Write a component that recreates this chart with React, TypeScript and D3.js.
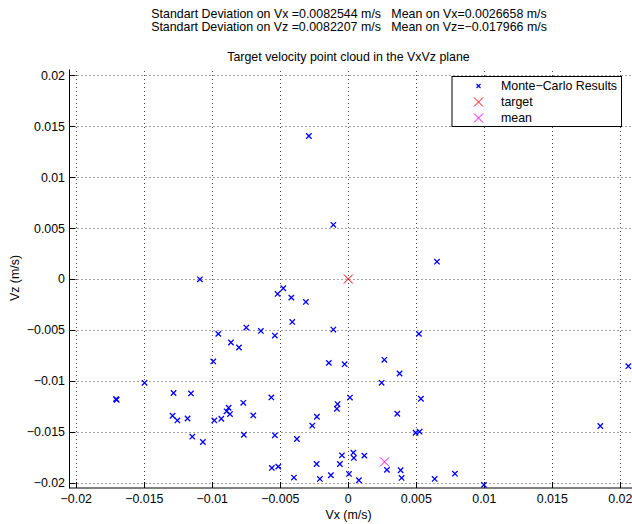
import React from "react";
import * as d3 from "d3";

const W = 632;
const H = 524;

const vx: number[] = [
  -0.0029, -0.0011, 0.00652, -0.01091, -0.00478, -0.0052, -0.00419, -0.00312, -0.00412, -0.0011,
  -0.0075, -0.00643, -0.0054, -0.00956, -0.00863, -0.00804, -0.00993, -0.00143, -0.00027, -0.01498,
  -0.01708, -0.01703, -0.01285, -0.01157, -0.00566, 0.00012, -0.00772, -0.00079, -0.00084, -0.0088,
  -0.00895, -0.0087, -0.01292, -0.01257, -0.01182, -0.00699, -0.00231, -0.00985, -0.00934, -0.00265,
  -0.01147, -0.01069, -0.00768, -0.0054, -0.00378, -0.00047, -0.00233, -0.00062, -0.00562, -0.00515,
  -0.004, -0.00209, -0.00128, 0.00005, 0.00519, 0.00265, 0.00377, 0.00245, 0.02059, 0.00534,
  0.0036, 0.00495, 0.00524, 0.01853, 0.00037, 0.00041, 0.00118, 0.00078, 0.00284, 0.00385,
  0.00392, 0.00635, 0.00784, 0.00997,
];
const vz: number[] = [
  0.01405, 0.00532, 0.0017, -0.00003, -0.00091, -0.00147, -0.00183, -0.00225, -0.00422, -0.00497,
  -0.00477, -0.0051, -0.00556, -0.00539, -0.00624, -0.00673, -0.0081, -0.00824, -0.00837, -0.0102,
  -0.0118, -0.01186, -0.0112, -0.01124, -0.01163, -0.01165, -0.01216, -0.01229, -0.01275, -0.01265,
  -0.013, -0.01327, -0.01343, -0.01389, -0.0137, -0.0134, -0.01353, -0.01389, -0.01373, -0.01441,
  -0.01549, -0.01601, -0.0153, -0.01536, -0.01572, -0.01732, -0.01817, -0.01817, -0.01856, -0.01843,
  -0.01951, -0.01964, -0.01928, -0.01915, -0.00539, -0.00794, -0.00928, -0.0102, -0.00856, -0.01176,
  -0.01324, -0.0151, -0.015, -0.01444, -0.01706, -0.01758, -0.01735, -0.01977, -0.01875, -0.01879,
  -0.01954, -0.01964, -0.01912, -0.02022,
];

const target: [number, number] = [0, 0];
const meanPt: [number, number] = [0.0026658, -0.017966];

const xTicks: number[] = [-0.02, -0.015, -0.01, -0.005, 0, 0.005, 0.01, 0.015, 0.02];
const yTicks: number[] = [-0.02, -0.015, -0.01, -0.005, 0, 0.005, 0.01, 0.015, 0.02];

const titleLines: string[] = [
  "Standart Deviation on Vx =0.0082544 m/s   Mean on Vx=0.0026658 m/s",
  "Standart Deviation on Vz =0.0082207 m/s   Mean on Vz=\u22120.017966 m/s",
];
const plotTitle = "Target velocity point cloud in the VxVz plane";
const legendLabels: string[] = ["Monte\u2212Carlo Results", "target", "mean"];

const FONT = "'Liberation Sans', Arial, Helvetica, sans-serif";
const FS = 12.4;

const fmt = (v: number) => {
  if (v === 0) return "0";
  const s = String(Math.abs(v));
  return (v < 0 ? "\u2212" : "") + s;
};

function Cross({ cx, cy, r, color, sw }: { cx: number; cy: number; r: number; color: string; sw: number }) {
  return (
    <path
      d={`M${cx - r},${cy - r}L${cx + r},${cy + r}M${cx - r},${cy + r}L${cx + r},${cy - r}`}
      stroke={color}
      strokeWidth={sw}
      fill="none"
    />
  );
}

export default function App() {
  const left = 69.5;
  const bottom = 488;
  const top = 69.5;
  const x = d3.scaleLinear().domain([0, 0.02]).range([348.3, 620.3]);
  const y = d3.scaleLinear().domain([0, 0.02]).range([279, 75.4]);
  const right = W;
  const tickLen = 6;

  return (
    <svg
      width={W}
      height={H}
      style={{ position: "fixed", left: 0, top: 0, background: "#fff" }}
      fontFamily={FONT}
    >
      <rect x={0} y={0} width={W} height={H} fill="#fff" />
      {/* grid */}
      <g stroke="#444" strokeWidth={1} strokeDasharray="1,3" fill="none">
        {xTicks.map((t) => (
          <line key={"gx" + t} x1={Math.round(x(t)) + 0.5} x2={Math.round(x(t)) + 0.5} y1={bottom} y2={top} />
        ))}
        {yTicks.map((t) => (
          <line key={"gy" + t} x1={left} x2={right} y1={Math.round(y(t)) + 0.5} y2={Math.round(y(t)) + 0.5} />
        ))}
      </g>
      {/* axes */}
      <g stroke="#000" strokeWidth={1} fill="none">
        <line x1={left} x2={left} y1={top} y2={bottom + 0.5} />
        <line x1={left} x2={right} y1={bottom} y2={bottom} />
        {xTicks.map((t) => (
          <line key={"tx" + t} x1={Math.round(x(t)) + 0.5} x2={Math.round(x(t)) + 0.5} y1={bottom} y2={bottom - tickLen} />
        ))}
        {yTicks.map((t) => (
          <line key={"ty" + t} x1={left} x2={left + tickLen} y1={Math.round(y(t)) + 0.5} y2={Math.round(y(t)) + 0.5} />
        ))}
      </g>
      {/* tick labels */}
      <g fontSize={FS} fill="#000">
        {xTicks.map((t) => (
          <text key={"lx" + t} x={x(t)} y={503} textAnchor="middle">
            {fmt(t)}
          </text>
        ))}
        {yTicks.map((t) => (
          <text key={"ly" + t} x={65} y={y(t)} dy="0.36em" textAnchor="end">
            {fmt(t)}
          </text>
        ))}
      </g>
      {/* axis labels */}
      <text x={348.5} y={519} fontSize={FS} textAnchor="middle">
        Vx (m/s)
      </text>
      <text transform="translate(18.5,278) rotate(-90)" fontSize={FS} textAnchor="middle">
        Vz (m/s)
      </text>
      {/* titles */}
      <g fontSize={FS} textAnchor="middle" style={{ whiteSpace: "pre" }}>
        <text x={349} y={18} xmlSpace="preserve">{titleLines[0]}</text>
        <text x={349} y={31} xmlSpace="preserve">{titleLines[1]}</text>
        <text x={348.5} y={61}>{plotTitle}</text>
      </g>
      {/* points */}
      <g>
        {vx.map((v, i) => (
          <Cross key={"p" + i} cx={x(v)} cy={y(vz[i])} r={2.7} color="#0000ff" sw={1.3} />
        ))}
        <Cross cx={x(target[0])} cy={y(target[1])} r={4.5} color="#ff0000" sw={1} />
        <Cross cx={x(meanPt[0])} cy={y(meanPt[1])} r={4.5} color="#ff00ff" sw={1} />
      </g>
      {/* legend */}
      <g>
        <rect x={452} y={76.5} width={169.5} height={50} fill="#fff" stroke="#000" strokeWidth={1} />
        <Cross cx={478.5} cy={86} r={2} color="#0000ff" sw={1.2} />
        <Cross cx={478.5} cy={102} r={4.5} color="#ff0000" sw={1} />
        <Cross cx={478.5} cy={118} r={4.5} color="#ff00ff" sw={1} />
        {legendLabels.map((l, i) => (
          <text key={l} x={501} y={86 + i * 16} dy="0.36em" fontSize={FS}>
            {l}
          </text>
        ))}
      </g>
    </svg>
  );
}
